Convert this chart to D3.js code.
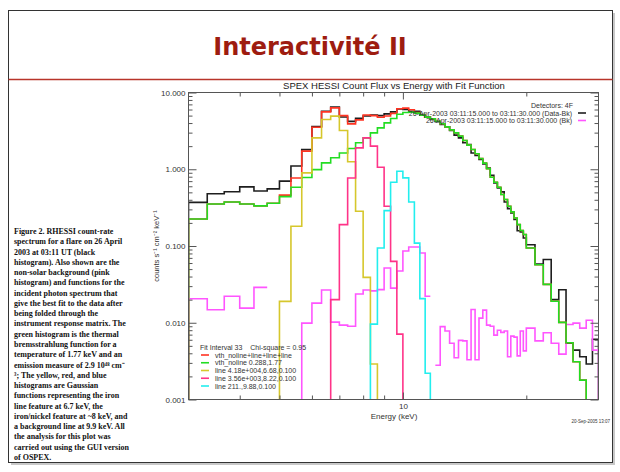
<!DOCTYPE html>
<html>
<head>
<meta charset="utf-8">
<style>
body { margin: 0; background: #fff; }
svg text { font-family: "Liberation Sans", Arial, sans-serif; fill: #333; }
.axis line { stroke: #555; }
.axis .domain { display: none; }
.axis text { font-size: 8px; fill: #333; }
</style>
</head>
<body>
<svg id="slide" width="620" height="472"></svg>
<script src="https://d3js.org/d3.v7.min.js"></script>
<script>
// energy bin edges (keV): 1/3 keV up to 20, then 1 keV
const edges = [3, 3.333, 3.667, 4, 4.333, 4.667, 5, 5.333, 5.667, 6, 6.333, 6.667, 7, 7.333, 7.667,
  8, 8.333, 8.667, 9, 9.333, 9.667, 10, 10.333, 10.667, 11, 11.333, 11.667, 12, 12.333, 12.667,
  13, 13.333, 13.667, 14, 14.333, 14.667, 15, 15.333, 15.667, 16, 16.333, 16.667, 17, 17.333, 17.667,
  18, 18.333, 18.667, 19, 19.333, 19.667, 20, 21, 22, 23, 24, 25, 26, 27, 28, 29, 30];

// counts s-1 cm-2 keV-1 per bin (0 = below the axis, null = not drawn)
const dataBk = [0.37, 0.48, 0.51, 0.59, 0.52, 0.555, 0.70, 1.10, 1.80, 3.6,
  5.7, 6.45, 4.8, 4.2, 4.6, 4.95, 5.07, 5.0, 5.27, 5.6,
  6.1, 6.0, 5.7, 5.7, 5.17, 4.82, 4.45, 4.15, 3.83, 3.57,
  3.20, 2.78, 2.56, 2.21, 2.10, 1.63, 1.51, 1.34, 1.17, 1.04,
  0.836, 0.664, 0.571, 0.507, 0.375, 0.307, 0.270, 0.221, 0.158, 0.152,
  0.127, 0.104, 0.0582, 0.0667, 0.020, 0.0269, 0.0054, 0.0044, 0.0036, 0.0029,
  0.0061];

const bkg = [0.0205, 0.0148, 0.0221, 0.0155, 0.0289, null, null, 0, 0.0099, 0.018,
  0.0267, 0.0102, 0.0093, 0.0090, 0.0237, 0.0267, 0.026, 0.027, 0.0516, 0.0283,
  0.0472, 0.086, 0.097, 0.097, 0.081, 0.0221, null, 0.0028, 0.0089, 0.0078,
  0.0054, 0.0035, 0.0059, 0.0058, 0.0033, 0.0149, 0.0033, 0.0115, 0.0146, 0.0093,
  0.0090, 0.0069, 0.0080, 0.0075, 0.0078, 0.0036, 0.0067, 0.0065, 0.0037, 0.0078,
  0.0043, 0.0085, 0.0058, 0.0074, 0.0054, 0.0039, 0.0095, 0.0099, 0.0085, 0.0108,
  0.0044];

const fitTotal = [0.225, 0.353, 0.375, 0.353, 0.333, 0.36, 0.46, 0.77, 1.72, 3.53,
  5.6, 6.31, 5.0, 3.9, 4.4, 5.1, 5.0, 4.75, 4.95, 5.35,
  6.15, 6.25, 5.95, 5.5, 5.1, 4.77, 4.54, 4.23, 3.91, 3.57,
  3.26, 2.98, 2.70, 2.37, 2.06, 1.81, 1.59, 1.38, 1.20, 1.02,
  0.787, 0.678, 0.583, 0.468, 0.403, 0.330, 0.278, 0.232, 0.190, 0.159,
  0.141, 0.094, 0.057, 0.0316, 0.0191, 0.0101, 0.0055, 0.0031, 0.00179, 0.0006,
  0.0004];

const vth = [0.225, 0.353, 0.375, 0.353, 0.333, 0.36, 0.44, 0.583, 0.78, 0.99,
  1.21, 1.41, 1.63, 1.86, 2.21, 2.56, 2.98, 3.46, 4.02, 4.58,
  5.2, 5.5, 5.55, 5.38, 5.07, 4.77, 4.54, 4.23, 3.91, 3.57,
  3.26, 2.98, 2.70, 2.37, 2.06, 1.81, 1.59, 1.38, 1.20, 1.02,
  0.787, 0.678, 0.583, 0.468, 0.403, 0.330, 0.278, 0.232, 0.190, 0.159,
  0.141, 0.094, 0.057, 0.0316, 0.0191, 0.0101, 0.0055, 0.0031, 0.00179, 0.0006,
  0.0004];

const line1 = [0, 0, 0, 0, 0, 0, 0.019, 0.181, 0.897, 2.56,
  4.45, 4.92, 3.20, 1.25, 0.284, 0.039, 0.0029, 0, 0, 0,
  0, 0, 0, 0, 0, 0, 0, 0, 0, 0,
  0, 0, 0, 0, 0, 0, 0, 0, 0, 0,
  0, 0, 0, 0, 0, 0, 0, 0, 0, 0,
  0, 0, 0, 0, 0, 0, 0, 0, 0, 0,
  0];

const line2 = [0, 0, 0, 0, 0, 0, 0, 0, 0, 0,
  0, 0.02, 0.19, 0.77, 1.90, 2.56, 2.0, 1.06, 0.33, 0.063,
  0.0071, 0, 0, 0, 0, 0, 0, 0, 0, 0,
  0, 0, 0, 0, 0, 0, 0, 0, 0, 0,
  0, 0, 0, 0, 0, 0, 0, 0, 0, 0,
  0, 0, 0, 0, 0, 0, 0, 0, 0, 0,
  0];

const line3 = [0, 0, 0, 0, 0, 0, 0, 0, 0, 0,
  0, 0, 0, 0, 0, 0, 0.0096, 0.094, 0.289, 0.678,
  0.94, 0.771, 0.375, 0.109, 0.0206, 0.0022, 0, 0, 0, 0,
  0, 0, 0, 0, 0, 0, 0, 0, 0, 0,
  0, 0, 0, 0, 0, 0, 0, 0, 0, 0,
  0, 0, 0, 0, 0, 0, 0, 0, 0, 0,
  0];

const yMajor = [10, 1, 0.1, 0.01, 0.001];
const yMajorLabels = ["10.000", "1.000", "0.100", "0.010", "0.001"];

const fitLegend = ["vth_noline+line+line+line", "vth_noline 0.288,1.77",
  "line 4.18e+004,6.68,0.100", "line 3.56e+003,8.22,0.100", "line 211.,9.88,0.100"];

const caption = ["Figure 2. RHESSI count-rate", "spectrum for a flare on 26 April",
  "2003 at 03:11 UT (black", "histogram). Also shown are the", "non-solar background (pink",
  "histogram) and functions for the", "incident photon spectrum that",
  "give the best fit to the data after", "being folded through the",
  "instrument response matrix. The", "green histogram is the thermal",
  "bremsstrahlung function for a", "temperature of 1.77 keV and an",
  "emission measure of 2.9 10⁴⁸ cm⁻", "³; The yellow, red, and blue",
  "histograms are Gaussian", "functions representing the iron",
  "line feature at 6.7 keV, the", "iron/nickel feature at ~8 keV, and",
  "a background line at 9.9 keV. All", "the analysis for this plot was",
  "carried out using the GUI version", "of OSPEX."];

const svg = d3.select("#slide");

// slide frame
svg.append("rect").attr("x", 11).attr("y", 13).attr("width", 604).attr("height", 452).attr("fill", "#c8c8c8");
svg.append("rect").attr("x", 8.5).attr("y", 10.5).attr("width", 604).attr("height", 452)
  .attr("fill", "#fff").attr("stroke", "#333").attr("stroke-width", 1);

svg.append("text").attr("x", 310).attr("y", 55).attr("text-anchor", "middle")
  .style("font-family", "'DejaVu Sans'").style("font-weight", "bold").style("font-size", "24px")
  .style("fill", "#9e1c10").text("Interactivité II");
svg.append("line").attr("x1", 8.5).attr("x2", 612.5).attr("y1", 79.5).attr("y2", 79.5)
  .attr("stroke", "#b8342a").attr("stroke-width", 1.5);

// caption
svg.append("g").selectAll("text").data(caption).join("text")
  .attr("x", 14).attr("y", (d, i) => 234 + i * 10.27)
  .style("font-family", "'Liberation Serif', serif").style("font-weight", "bold")
  .style("font-size", "8px").style("fill", "#111").text(d => d);

// plot
const pLeft = 188.5, pRight = 598.5, pTop = 92.5, pBottom = 399.5;
const x = d3.scaleLog().domain([3, 30]).range([pLeft, pRight]);
const y = d3.scaleLog().domain([0.001, 10]).range([pBottom, pTop]);

svg.append("clipPath").attr("id", "plotclip").append("rect")
  .attr("x", pLeft).attr("y", pTop).attr("width", pRight - pLeft).attr("height", pBottom - pTop);

function steps(vals) {
  const pts = [];
  if (vals[0] != null) pts.push([edges[0], 0]);
  vals.forEach((v, i) => {
    if (v == null) { pts.push(null); return; }
    pts.push([edges[i], v], [edges[i + 1], v]);
  });
  if (vals[vals.length - 1] != null) pts.push([edges[edges.length - 1], 0]);
  return pts;
}
const yv = v => v > 0 ? y(v) : pBottom + 40;
const stepLine = d3.line().defined(d => d != null).x(d => x(d[0])).y(d => yv(d[1]));

const series = [
  { vals: dataBk, color: "#1e1e1e" },
  { vals: bkg, color: "#ff55ff" },
  { vals: fitTotal, color: "#ff3322" },
  { vals: vth, color: "#22dd22" },
  { vals: line1, color: "#d6c72c" },
  { vals: line2, color: "#ff3388" },
  { vals: line3, color: "#22eeee" }
];
const plot = svg.append("g").attr("clip-path", "url(#plotclip)");
series.forEach(s => {
  plot.append("path").attr("d", stepLine(steps(s.vals)))
    .attr("fill", "none").attr("stroke", s.color).attr("stroke-width", 1.6);
});

// axes
const xMinor = x.ticks().filter(d => d > 3 && d < 30 && d !== 10);
const yMinor = y.ticks().filter(d => !yMajor.some(m => Math.abs(m - d) < 1e-9));

svg.append("g").attr("class", "axis").attr("transform", `translate(0,${pBottom})`)
  .call(d3.axisBottom(x).tickValues(xMinor).tickSize(-4).tickFormat(""));
svg.append("g").attr("class", "axis").attr("transform", `translate(0,${pBottom})`)
  .call(d3.axisBottom(x).tickValues([10]).tickSize(-7).tickPadding(4).tickFormat(d3.format("d")));
svg.append("g").attr("class", "axis").attr("transform", `translate(0,${pTop})`)
  .call(d3.axisTop(x).tickValues(xMinor).tickSize(-4).tickFormat(""));
svg.append("g").attr("class", "axis").attr("transform", `translate(0,${pTop})`)
  .call(d3.axisTop(x).tickValues([10]).tickSize(-7).tickFormat(""));

svg.append("g").attr("class", "axis").attr("transform", `translate(${pLeft},0)`)
  .call(d3.axisLeft(y).tickValues(yMajor).tickSize(-8).tickPadding(3)
    .tickFormat((d, i) => yMajorLabels[i]));
svg.append("g").attr("class", "axis").attr("transform", `translate(${pLeft},0)`)
  .call(d3.axisLeft(y).tickValues(yMinor).tickSize(-4).tickFormat(""));
svg.append("g").attr("class", "axis").attr("transform", `translate(${pRight},0)`)
  .call(d3.axisRight(y).tickValues(yMajor).tickSize(-8).tickFormat(""));
svg.append("g").attr("class", "axis").attr("transform", `translate(${pRight},0)`)
  .call(d3.axisRight(y).tickValues(yMinor).tickSize(-4).tickFormat(""));

svg.append("rect").attr("x", pLeft).attr("y", pTop).attr("width", pRight - pLeft).attr("height", pBottom - pTop)
  .attr("fill", "none").attr("stroke", "#555").attr("stroke-width", 1);

// titles
svg.append("text").attr("x", 394).attr("y", 89).attr("text-anchor", "middle")
  .style("font-size", "9.5px").style("fill", "#222")
  .text("SPEX HESSI Count Flux vs Energy with Fit Function");
svg.append("text").attr("x", 394).attr("y", 419).attr("text-anchor", "middle")
  .style("font-size", "8px").text("Energy (keV)");
svg.append("text").attr("transform", "translate(159,246) rotate(-90)").attr("text-anchor", "middle")
  .style("font-size", "7.5px").text("counts s⁻¹ cm⁻² keV⁻¹");
svg.append("text").attr("x", 610).attr("y", 422.5).attr("text-anchor", "end")
  .style("font-size", "4.5px").text("20-Sep-2005 13:07");

// detector legend (top right)
const topLegend = svg.append("g").style("font-size", "7px");
topLegend.append("text").attr("x", 573).attr("y", 107.5).attr("text-anchor", "end").text("Detectors: 4F");
[["26-Apr-2003 03:11:15.000 to 03:11:30.000 (Data-Bk)", series[0].color],
 ["26-Apr-2003 03:11:15.000 to 03:11:30.000 (Bk)", series[1].color]].forEach((r, i) => {
  const yy = 113 + i * 7.5;
  topLegend.append("text").attr("x", 572).attr("y", yy + 2.5).attr("text-anchor", "end").text(r[0]);
  topLegend.append("line").attr("x1", 578).attr("x2", 586).attr("y1", yy).attr("y2", yy)
    .attr("stroke", r[1]).attr("stroke-width", 1.6);
});

// fit legend (bottom left)
const fit = svg.append("g").style("font-size", "7px");
fit.append("text").attr("x", 200).attr("y", 350).attr("xml:space", "preserve")
  .text("Fit Interval 33    Chi-square = 0.95");
fitLegend.forEach((t, i) => {
  const yy = 355 + i * 7.75;
  fit.append("line").attr("x1", 201).attr("x2", 209).attr("y1", yy).attr("y2", yy)
    .attr("stroke", series[i + 2].color).attr("stroke-width", 1.6);
  fit.append("text").attr("x", 215).attr("y", yy + 2.5).text(t);
});
</script>
</body>
</html>
